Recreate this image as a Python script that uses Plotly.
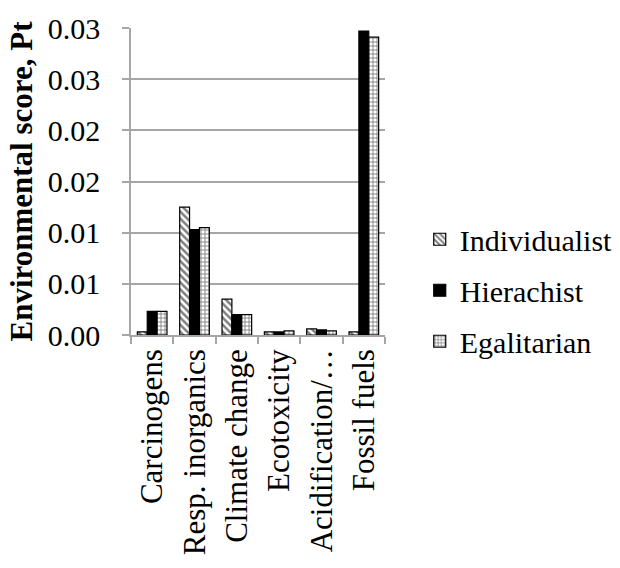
import plotly.graph_objects as go

categories = ["Carcinogens", "Resp. inorganics", "Climate change",
              "Ecotoxicity", "Acidification/…", "Fossil fuels"]
individualist = [0.0003, 0.0125, 0.0035, 0.0003, 0.0006, 0.0003]
hierachist = [0.0023, 0.0103, 0.0020, 0.0003, 0.0005, 0.0297]
egalitarian = [0.0023, 0.0105, 0.0020, 0.0004, 0.0004, 0.0291]

tick_vals = [0.0, 0.005, 0.01, 0.015, 0.02, 0.025, 0.03]
tick_text = ["0.00", "0.01", "0.01", "0.02", "0.02", "0.03", "0.03"]

FONT = "Times New Roman, Liberation Serif, serif"
GRID = "#a6a6a6"

fig = go.Figure()
fig.add_trace(go.Bar(
    name="Individualist", x=categories, y=individualist,
    legendgroup="a",
    marker=dict(color="white", line=dict(color="black", width=1.2),
                pattern=dict(shape="\\", fgcolor="black", bgcolor="white",
                             size=5, solidity=0.5)),
))
fig.add_trace(go.Bar(
    name="Hierachist", x=categories, y=hierachist,
    legendgroup="b",
    marker=dict(color="black", line=dict(color="black", width=1.2)),
))
fig.add_trace(go.Bar(
    name="Egalitarian", x=categories, y=egalitarian,
    legendgroup="c",
    marker=dict(color="white", line=dict(color="black", width=1.2),
                pattern=dict(shape="+", fgcolor="black", bgcolor="white",
                             size=4, solidity=0.4)),
))

fig.update_layout(
    width=620, height=568,
    margin=dict(l=131, r=235, t=28, b=233, autoexpand=False),
    paper_bgcolor="white", plot_bgcolor="white",
    barmode="group", bargap=0.3, bargroupgap=0.0,
    font=dict(family=FONT, size=30, color="black"),
    showlegend=True,
    legend=dict(xref="container", yref="container",
                x=0.677, y=0.489, xanchor="left", yanchor="middle",
                traceorder="grouped", tracegroupgap=9,
                font=dict(family=FONT, size=30, color="black"),
                itemwidth=30, bgcolor="rgba(0,0,0,0)"),
    xaxis=dict(
        type="category", showline=True, linecolor=GRID, linewidth=1.5,
        ticks="outside", tickson="boundaries", ticklen=7, tickcolor=GRID,
        tickwidth=1.5, tickangle=-90, showgrid=False,
        tickfont=dict(family=FONT, size=31, color="black"),
    ),
    yaxis=dict(
        range=[0, 0.03], tickvals=tick_vals, ticktext=tick_text,
        showline=True, linecolor=GRID, linewidth=1.5,
        ticks="outside", ticklen=7, tickcolor=GRID, tickwidth=1.5,
        ticklabelstandoff=16,
        showgrid=True, gridcolor=GRID, gridwidth=1.5, zeroline=False,
        tickfont=dict(family=FONT, size=30, color="black"),
        title=dict(text="<b>Environmental score, Pt</b>",
                   font=dict(family=FONT, size=31, color="black"),
                   standoff=6),
    ),
)

fig.write_html("out.html")
